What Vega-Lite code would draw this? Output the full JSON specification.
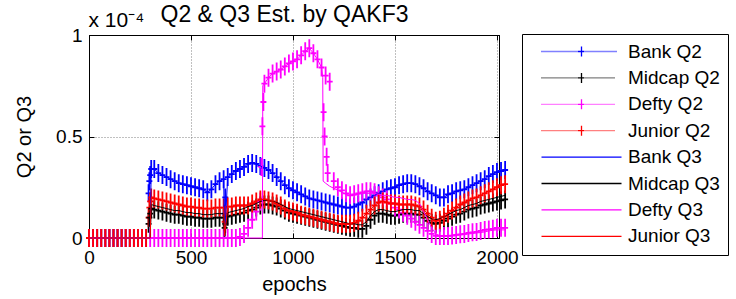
{
  "$schema": "https://vega.github.io/schema/vega-lite/v6.json",
  "width": 410,
  "height": 203,
  "autosize": {"type": "none"},
  "padding": {"left": 89, "top": 35, "right": 237, "bottom": 61},
  "background": "white",
  "config": {
    "font": "Liberation Sans",
    "view": {"stroke": "black", "strokeWidth": 1},
    "axis": {"labelColor": "black", "titleColor": "black", "tickColor": "black", "domainColor": "black", "titleFontWeight": "normal", "labelFlush": false, "labelOverlap": false, "gridColor": "#808080", "gridDash": [1, 2], "gridOpacity": 1, "gridWidth": 1}
  },
  "datasets": {
    "keys": [
      {"s": "Bank Q2"}, {"s": "Midcap Q2"}, {"s": "Defty Q2"}, {"s": "Junior Q2"},
      {"s": "Bank Q3"}, {"s": "Midcap Q3"}, {"s": "Defty Q3"}, {"s": "Junior Q3"}
    ]
  },
  "data": {"values": [
    {"e":0,"b2":0,"m2":0,"d2":0,"j2":0,"b3":0,"m3":0,"d3":0,"j3":0},
    {"e":20,"b2":0,"m2":0,"d2":0,"j2":0},
    {"e":40,"b2":0,"m2":0,"d2":0,"j2":0},
    {"e":60,"b2":0,"m2":0,"d2":0,"j2":0},
    {"e":80,"b2":0,"m2":0,"d2":0,"j2":0},
    {"e":100,"b2":0,"m2":0,"d2":0,"j2":0},
    {"e":120,"b2":0,"m2":0,"d2":0,"j2":0},
    {"e":140,"b2":0,"m2":0,"d2":0,"j2":0},
    {"e":160,"b2":0,"m2":0,"d2":0,"j2":0},
    {"e":180,"b2":0,"m2":0,"d2":0,"j2":0},
    {"e":200,"b2":0,"m2":0,"d2":0,"j2":0},
    {"e":220,"b2":0,"m2":0,"d2":0,"j2":0},
    {"e":240,"b2":0,"m2":0,"d2":0,"j2":0},
    {"e":260,"b2":0,"m2":0,"d2":0,"j2":0},
    {"e":280,"b2":0,"m2":0,"d2":0,"j2":0},
    {"e":292,"b2":0.22,"m2":0.07,"j2":0.1},
    {"e":296,"b2":0.28,"m2":0.1,"j2":0.15},
    {"e":300,"b2":0.31,"m2":0.12,"d2":0,"j2":0.18,"b3":0,"m3":0,"d3":0,"j3":0},
    {"e":305,"b2":0.34,"m2":0.145,"j2":0.2,"b3":0.34,"m3":0.165,"d3":0,"j3":0.2},
    {"e":320,"b2":0.34,"m2":0.14,"d2":0,"j2":0.195,"b3":0.34,"m3":0.16,"j3":0.195},
    {"e":340,"b2":0.32,"m2":0.135,"d2":0,"j2":0.19,"b3":0.32,"m3":0.155,"j3":0.19},
    {"e":360,"b2":0.31,"m2":0.13,"d2":0,"j2":0.185,"b3":0.31,"m3":0.15,"j3":0.185},
    {"e":380,"b2":0.30,"m2":0.125,"d2":0,"j2":0.18,"b3":0.30,"m3":0.145,"j3":0.18},
    {"e":400,"b2":0.29,"m2":0.12,"d2":0,"j2":0.175,"b3":0.29,"m3":0.14,"j3":0.175},
    {"e":420,"b2":0.28,"m2":0.115,"d2":0,"j2":0.17,"b3":0.28,"m3":0.135,"j3":0.17},
    {"e":440,"b2":0.27,"m2":0.115,"d2":0,"j2":0.165,"b3":0.27,"m3":0.135,"j3":0.165},
    {"e":460,"b2":0.265,"m2":0.11,"d2":0,"j2":0.16,"b3":0.265,"m3":0.13,"j3":0.16},
    {"e":480,"b2":0.26,"m2":0.105,"d2":0,"j2":0.155,"b3":0.26,"m3":0.125,"j3":0.155},
    {"e":500,"b2":0.255,"m2":0.105,"d2":0,"j2":0.155,"b3":0.255,"m3":0.125,"j3":0.155},
    {"e":520,"b2":0.25,"m2":0.10,"d2":0,"j2":0.15,"b3":0.25,"m3":0.12,"j3":0.15},
    {"e":540,"b2":0.245,"m2":0.10,"d2":0,"j2":0.15,"b3":0.245,"m3":0.12,"j3":0.15},
    {"e":560,"b2":0.24,"m2":0.095,"d2":0,"j2":0.145,"b3":0.24,"m3":0.115,"j3":0.145},
    {"e":580,"b2":0.225,"m2":0.095,"d2":0,"j2":0.145,"b3":0.225,"m3":0.115,"j3":0.145},
    {"e":600,"b2":0.24,"m2":0.095,"d2":0,"j2":0.145,"b3":0.24,"m3":0.115,"j3":0.145},
    {"e":620,"b2":0.265,"m2":0.10,"d2":0,"j2":0.15,"b3":0.265,"m3":0.12,"j3":0.15},
    {"e":640,"b2":0.28,"m2":0.10,"d2":0,"j2":0.15,"b3":0.28,"m3":0.12,"j3":0.15},
    {"e":660,"b2":0.29,"m2":0.10,"d2":0,"j2":0.15,"b3":0.29,"m3":0.12,"j3":0.15},
    {"e":665,"b2":0.12,"m2":0.05,"j2":0.08,"b3":0.01,"m3":0.01,"d3":0,"j3":0.01},
    {"e":668,"b2":0.2,"m2":0.07,"j2":0.11},
    {"e":680,"b2":0.30,"m2":0.105,"d2":0,"j2":0.155,"b3":0.30,"m3":0.125,"j3":0.155},
    {"e":700,"b2":0.315,"m2":0.11,"d2":0,"j2":0.155,"b3":0.315,"m3":0.13,"j3":0.155},
    {"e":720,"b2":0.33,"m2":0.115,"d2":0,"j2":0.16,"b3":0.33,"m3":0.135,"j3":0.16},
    {"e":740,"b2":0.34,"m2":0.12,"d2":0.005,"j2":0.16,"b3":0.34,"m3":0.14,"j3":0.16},
    {"e":760,"b2":0.35,"m2":0.125,"d2":0.02,"j2":0.16,"b3":0.35,"m3":0.145,"j3":0.16},
    {"e":780,"b2":0.365,"m2":0.135,"d2":0.05,"j2":0.16,"b3":0.365,"m3":0.155,"j3":0.16},
    {"e":800,"b2":0.37,"m2":0.14,"d2":0.09,"j2":0.17,"b3":0.37,"m3":0.16,"j3":0.17},
    {"e":820,"b2":0.365,"m2":0.15,"d2":0.13,"j2":0.18,"b3":0.365,"m3":0.17,"j3":0.18},
    {"e":840,"b2":0.355,"m2":0.16,"d2":0.18,"j2":0.19,"b3":0.355,"m3":0.18,"j3":0.19},
    {"e":845,"d2":0.35},
    {"e":850,"d2":0.55,"d3":0},
    {"e":852,"d3":0.75},
    {"e":855,"d2":0.67},
    {"e":860,"b2":0.345,"m2":0.165,"d2":0.76,"j2":0.19,"b3":0.345,"m3":0.185,"d3":0.76,"j3":0.19},
    {"e":880,"b2":0.335,"m2":0.165,"d2":0.79,"j2":0.185,"b3":0.335,"m3":0.185,"d3":0.79,"j3":0.185},
    {"e":900,"b2":0.32,"m2":0.16,"d2":0.81,"j2":0.18,"b3":0.32,"m3":0.18,"d3":0.81,"j3":0.18},
    {"e":920,"b2":0.30,"m2":0.155,"d2":0.82,"j2":0.17,"b3":0.30,"m3":0.175,"d3":0.82,"j3":0.17},
    {"e":940,"b2":0.28,"m2":0.145,"d2":0.83,"j2":0.16,"b3":0.28,"m3":0.165,"d3":0.83,"j3":0.16},
    {"e":960,"b2":0.26,"m2":0.135,"d2":0.845,"j2":0.145,"b3":0.26,"m3":0.155,"d3":0.845,"j3":0.145},
    {"e":980,"b2":0.245,"m2":0.125,"d2":0.86,"j2":0.135,"b3":0.245,"m3":0.145,"d3":0.86,"j3":0.135},
    {"e":1000,"b2":0.235,"m2":0.12,"d2":0.87,"j2":0.13,"b3":0.235,"m3":0.14,"d3":0.87,"j3":0.13},
    {"e":1020,"b2":0.225,"m2":0.115,"d2":0.88,"j2":0.125,"b3":0.225,"m3":0.135,"d3":0.88,"j3":0.125},
    {"e":1040,"b2":0.215,"m2":0.11,"d2":0.90,"j2":0.115,"b3":0.215,"m3":0.13,"d3":0.90,"j3":0.115},
    {"e":1060,"b2":0.205,"m2":0.105,"d2":0.92,"j2":0.11,"b3":0.205,"m3":0.125,"d3":0.92,"j3":0.11},
    {"e":1080,"b2":0.195,"m2":0.10,"d2":0.935,"j2":0.105,"b3":0.195,"m3":0.12,"d3":0.935,"j3":0.105},
    {"e":1100,"b2":0.19,"m2":0.095,"d2":0.91,"j2":0.10,"b3":0.19,"m3":0.115,"d3":0.91,"j3":0.10},
    {"e":1120,"b2":0.185,"m2":0.09,"d2":0.88,"j2":0.095,"b3":0.185,"m3":0.11,"d3":0.88,"j3":0.095},
    {"e":1140,"b2":0.18,"m2":0.085,"d2":0.84,"j2":0.09,"b3":0.18,"m3":0.105,"d3":0.84,"j3":0.09},
    {"e":1146,"d3":0.79},
    {"e":1148,"d3":0.28},
    {"e":1150,"d2":0.62},
    {"e":1155,"d2":0.5},
    {"e":1160,"b2":0.175,"m2":0.08,"d2":0.80,"j2":0.085,"b3":0.175,"m3":0.10,"d3":0.27,"j3":0.085},
    {"e":1165,"d2":0.4},
    {"e":1170,"d2":0.32},
    {"e":1180,"b2":0.17,"m2":0.075,"d2":0.77,"j2":0.08,"b3":0.17,"m3":0.095,"d3":0.255,"j3":0.08},
    {"e":1200,"b2":0.165,"m2":0.07,"d2":0.28,"j2":0.075,"b3":0.165,"m3":0.09,"d3":0.245,"j3":0.075},
    {"e":1220,"b2":0.16,"m2":0.065,"d2":0.25,"j2":0.07,"b3":0.16,"m3":0.085,"d3":0.235,"j3":0.07},
    {"e":1240,"b2":0.155,"m2":0.06,"d2":0.235,"j2":0.07,"b3":0.155,"m3":0.08,"d3":0.225,"j3":0.07},
    {"e":1260,"b2":0.15,"m2":0.055,"d2":0.22,"j2":0.07,"b3":0.15,"m3":0.075,"d3":0.215,"j3":0.07},
    {"e":1280,"b2":0.15,"m2":0.05,"d2":0.21,"j2":0.07,"b3":0.15,"m3":0.07,"d3":0.21,"j3":0.07},
    {"e":1300,"b2":0.155,"m2":0.05,"d2":0.215,"j2":0.075,"b3":0.155,"m3":0.07,"d3":0.21,"j3":0.075},
    {"e":1320,"b2":0.165,"m2":0.045,"d2":0.22,"j2":0.085,"b3":0.165,"m3":0.065,"d3":0.215,"j3":0.085},
    {"e":1340,"b2":0.175,"m2":0.045,"d2":0.225,"j2":0.10,"b3":0.175,"m3":0.065,"d3":0.22,"j3":0.10},
    {"e":1360,"b2":0.19,"m2":0.06,"d2":0.23,"j2":0.12,"b3":0.19,"m3":0.08,"d3":0.22,"j3":0.12},
    {"e":1380,"b2":0.20,"m2":0.09,"d2":0.23,"j2":0.14,"b3":0.20,"m3":0.11,"d3":0.22,"j3":0.14},
    {"e":1400,"b2":0.21,"m2":0.11,"d2":0.225,"j2":0.16,"b3":0.21,"m3":0.13,"d3":0.22,"j3":0.16},
    {"e":1420,"b2":0.22,"m2":0.12,"d2":0.21,"j2":0.175,"b3":0.22,"m3":0.14,"d3":0.215,"j3":0.175},
    {"e":1440,"b2":0.23,"m2":0.12,"d2":0.20,"j2":0.18,"b3":0.23,"m3":0.14,"d3":0.21,"j3":0.18},
    {"e":1460,"b2":0.24,"m2":0.115,"d2":0.19,"j2":0.175,"b3":0.24,"m3":0.135,"d3":0.21,"j3":0.175},
    {"e":1480,"b2":0.245,"m2":0.11,"d2":0.17,"j2":0.17,"b3":0.245,"m3":0.13,"d3":0.205,"j3":0.17},
    {"e":1500,"b2":0.25,"m2":0.11,"d2":0.15,"j2":0.17,"b3":0.25,"m3":0.13,"d3":0.20,"j3":0.17},
    {"e":1520,"b2":0.26,"m2":0.115,"d2":0.14,"j2":0.165,"b3":0.26,"m3":0.135,"d3":0.20,"j3":0.165},
    {"e":1540,"b2":0.265,"m2":0.12,"d2":0.125,"j2":0.165,"b3":0.265,"m3":0.14,"d3":0.195,"j3":0.165},
    {"e":1560,"b2":0.27,"m2":0.12,"d2":0.11,"j2":0.165,"b3":0.27,"m3":0.14,"d3":0.19,"j3":0.165},
    {"e":1580,"b2":0.27,"m2":0.12,"d2":0.095,"j2":0.165,"b3":0.27,"m3":0.14,"d3":0.19,"j3":0.165},
    {"e":1600,"b2":0.265,"m2":0.115,"d2":0.08,"j2":0.16,"b3":0.265,"m3":0.135,"d3":0.185,"j3":0.16},
    {"e":1620,"b2":0.255,"m2":0.115,"d2":0.065,"j2":0.155,"b3":0.255,"m3":0.135,"d3":0.17,"j3":0.155},
    {"e":1640,"b2":0.245,"m2":0.10,"d2":0.05,"j2":0.14,"b3":0.245,"m3":0.12,"d3":0.13,"j3":0.14},
    {"e":1660,"b2":0.23,"m2":0.085,"d2":0.035,"j2":0.12,"b3":0.23,"m3":0.105,"d3":0.09,"j3":0.12},
    {"e":1680,"b2":0.22,"m2":0.075,"d2":0.02,"j2":0.10,"b3":0.22,"m3":0.095,"d3":0.05,"j3":0.10},
    {"e":1700,"b2":0.21,"m2":0.07,"d2":0.01,"j2":0.085,"b3":0.21,"m3":0.09,"d3":0.02,"j3":0.085},
    {"e":1720,"b2":0.20,"m2":0.075,"d2":0.01,"j2":0.09,"b3":0.20,"m3":0.095,"d3":0.012,"j3":0.09},
    {"e":1740,"b2":0.20,"m2":0.085,"d2":0.01,"j2":0.105,"b3":0.20,"m3":0.105,"d3":0.01,"j3":0.105},
    {"e":1760,"b2":0.215,"m2":0.095,"d2":0.01,"j2":0.12,"b3":0.215,"m3":0.115,"d3":0.01,"j3":0.12},
    {"e":1780,"b2":0.22,"m2":0.105,"d2":0.012,"j2":0.135,"b3":0.22,"m3":0.125,"d3":0.012,"j3":0.135},
    {"e":1800,"b2":0.23,"m2":0.115,"d2":0.015,"j2":0.15,"b3":0.23,"m3":0.135,"d3":0.015,"j3":0.15},
    {"e":1820,"b2":0.235,"m2":0.12,"d2":0.018,"j2":0.165,"b3":0.235,"m3":0.14,"d3":0.015,"j3":0.165},
    {"e":1840,"b2":0.24,"m2":0.13,"d2":0.02,"j2":0.175,"b3":0.24,"m3":0.15,"d3":0.018,"j3":0.175},
    {"e":1860,"b2":0.25,"m2":0.14,"d2":0.025,"j2":0.185,"b3":0.25,"m3":0.16,"d3":0.02,"j3":0.185},
    {"e":1880,"b2":0.26,"m2":0.145,"d2":0.028,"j2":0.195,"b3":0.26,"m3":0.165,"d3":0.022,"j3":0.195},
    {"e":1900,"b2":0.27,"m2":0.15,"d2":0.03,"j2":0.20,"b3":0.27,"m3":0.17,"d3":0.025,"j3":0.20},
    {"e":1920,"b2":0.28,"m2":0.16,"d2":0.035,"j2":0.21,"b3":0.28,"m3":0.18,"d3":0.027,"j3":0.21},
    {"e":1940,"b2":0.29,"m2":0.165,"d2":0.04,"j2":0.22,"b3":0.29,"m3":0.185,"d3":0.03,"j3":0.22},
    {"e":1960,"b2":0.305,"m2":0.17,"d2":0.042,"j2":0.23,"b3":0.305,"m3":0.19,"d3":0.035,"j3":0.23},
    {"e":1980,"b2":0.315,"m2":0.175,"d2":0.045,"j2":0.24,"b3":0.315,"m3":0.195,"d3":0.038,"j3":0.24},
    {"e":2000,"b2":0.325,"m2":0.18,"d2":0.05,"j2":0.25,"b3":0.325,"m3":0.20,"d3":0.04,"j3":0.25},
    {"e":2020,"b2":0.33,"m2":0.185,"d2":0.05,"j2":0.26,"b3":0.33,"m3":0.205,"d3":0.04,"j3":0.26},
    {"e":2040,"b2":0.335,"m2":0.19,"d2":0.05,"j2":0.265,"b3":0.335,"m3":0.21,"d3":0.04,"j3":0.265}
  ]},
  "layer": [
    {
      "transform": [
        {"fold": ["b2", "m2", "d2", "j2"], "as": ["k", "v"]},
        {"filter": "isValid(datum.v)"}
      ],
      "mark": {"type": "point", "shape": "M0,-1V1M-0.33,0H0.33", "size": 324, "filled": false, "strokeWidth": 1.8, "opacity": 1, "clip": false},
      "encoding": {
        "x": {"field": "e", "type": "quantitative", "scale": {"domain": [0, 2010], "nice": false, "zero": false},
          "axis": {"orient": "bottom", "values": [0, 500, 1000, 1500, 2000], "labelExpr": "'' + datum.value", "labelFontSize": 19, "labelPadding": 15, "tickSize": -5, "grid": true, "title": "epochs", "titleFontSize": 20, "titleY": 52, "titleBaseline": "alphabetic"}},
        "y": {"field": "v", "type": "quantitative", "scale": {"domain": [0, 1], "nice": false, "zero": false},
          "axis": {"orient": "left", "values": [0, 0.5, 1], "labelExpr": "'' + datum.value", "labelFontSize": 19, "labelPadding": 12, "tickSize": -5, "grid": true, "title": "Q2 or Q3", "titleFontSize": 20, "titleX": -59, "titleY": 101.5, "titleAngle": -90, "titleAlign": "center", "titleBaseline": "alphabetic"}},
        "stroke": {"field": "k", "type": "nominal",
          "scale": {"domain": ["b2", "m2", "d2", "j2", "b3", "m3", "d3", "j3"], "range": ["#0000ff", "#000000", "#ff00ff", "#ff0000", "#0000ff", "#000000", "#ff00ff", "#ff0000"]},
          "legend": null}
      }
    },
    {
      "transform": [
        {"fold": ["b3", "m3", "d3", "j3"], "as": ["k", "v"]},
        {"filter": "isValid(datum.v)"}
      ],
      "mark": {"type": "line", "strokeWidth": 1, "clip": false},
      "encoding": {
        "x": {"field": "e", "type": "quantitative", "scale": {"domain": [0, 2010], "nice": false, "zero": false},
          "axis": {"orient": "top", "values": [0, 500, 1000, 1500, 2000], "labels": false, "tickSize": -5, "grid": false, "title": "x 10⁻⁴", "titleFontSize": 21, "titleX": -1, "titleY": -9, "titleAlign": "left", "titleBaseline": "alphabetic"}},
        "y": {"field": "v", "type": "quantitative", "scale": {"domain": [0, 1], "nice": false, "zero": false},
          "axis": {"orient": "right", "values": [0, 0.5, 1], "labels": false, "tickSize": -5, "grid": false, "title": "Q2 & Q3 Est. by QAKF3", "titleFontSize": 23, "titleAngle": 0, "titleX": -215, "titleY": -14, "titleAlign": "center", "titleBaseline": "alphabetic"}},
        "stroke": {"field": "k", "type": "nominal",
          "scale": {"domain": ["b2", "m2", "d2", "j2", "b3", "m3", "d3", "j3"], "range": ["#0000ff", "#000000", "#ff00ff", "#ff0000", "#0000ff", "#000000", "#ff00ff", "#ff0000"]},
          "legend": null},
        "order": {"field": "e", "type": "quantitative"}
      }
    },
    {
      "data": {"name": "keys"},
      "mark": {"type": "point", "filled": false, "opacity": 0, "strokeWidth": 1},
      "encoding": {
        "color": {"field": "s", "type": "nominal",
          "scale": {"domain": ["Bank Q2", "Midcap Q2", "Defty Q2", "Junior Q2", "Bank Q3", "Midcap Q3", "Defty Q3", "Junior Q3"], "range": ["#0000ff", "#000000", "#ff00ff", "#ff0000", "#0000ff", "#000000", "#ff00ff", "#ff0000"]},
          "legend": {"title": null, "orient": "none", "legendX": 433, "legendY": -1, "padding": 8, "strokeColor": "black", "fillColor": "white", "cornerRadius": 0, "labelFontSize": 19, "labelColor": "black", "labelOffset": 79, "rowPadding": 6.4, "symbolSize": 100, "symbolStrokeWidth": 1.3, "symbolOpacity": 1, "symbolFillColor": "transparent", "labelLimit": 0}},
        "shape": {"field": "s", "type": "nominal",
          "scale": {"domain": ["Bank Q2", "Midcap Q2", "Defty Q2", "Junior Q2", "Bank Q3", "Midcap Q3", "Defty Q3", "Junior Q3"],
            "range": [
              "M0.4,0h0.2m0.2,0h0.2m0.2,0h0.2m0.2,0h0.2m0.2,0h0.2m0.2,0h0.2m0.2,0h0.2m0.2,0h0.2m0.2,0h0.2m0.2,0h0.2m0.2,0h0.2m0.2,0h0.2m0.2,0h0.2m0.2,0h0.2m0.2,0h0.2m0.2,0h0.2m0.2,0h0.2m0.2,0h0.2m0.2,0h0.2m0.2,0h0.2m0.2,0h0.2m0.2,0h0.2m0.2,0h0.2m0.2,0h0.2m0.2,0h0.2m0.2,0h0.2m0.2,0h0.2m0.2,0h0.2m0.2,0h0.2m0.2,0h0.2m0.2,0h0.2m0.2,0h0.2m0.2,0h0.2m0.2,0h0.2m0.2,0h0.2m0.2,0h0.2m0.2,0h0.2m0.2,0h0.2m0.2,0M8.4,-1V1M7.8,0H9",
              "M0.4,0h0.2m0.2,0h0.2m0.2,0h0.2m0.2,0h0.2m0.2,0h0.2m0.2,0h0.2m0.2,0h0.2m0.2,0h0.2m0.2,0h0.2m0.2,0h0.2m0.2,0h0.2m0.2,0h0.2m0.2,0h0.2m0.2,0h0.2m0.2,0h0.2m0.2,0h0.2m0.2,0h0.2m0.2,0h0.2m0.2,0h0.2m0.2,0h0.2m0.2,0h0.2m0.2,0h0.2m0.2,0h0.2m0.2,0h0.2m0.2,0h0.2m0.2,0h0.2m0.2,0h0.2m0.2,0h0.2m0.2,0h0.2m0.2,0h0.2m0.2,0h0.2m0.2,0h0.2m0.2,0h0.2m0.2,0h0.2m0.2,0h0.2m0.2,0h0.2m0.2,0h0.2m0.2,0M8.4,-1V1M7.8,0H9",
              "M0.4,0h0.2m0.2,0h0.2m0.2,0h0.2m0.2,0h0.2m0.2,0h0.2m0.2,0h0.2m0.2,0h0.2m0.2,0h0.2m0.2,0h0.2m0.2,0h0.2m0.2,0h0.2m0.2,0h0.2m0.2,0h0.2m0.2,0h0.2m0.2,0h0.2m0.2,0h0.2m0.2,0h0.2m0.2,0h0.2m0.2,0h0.2m0.2,0h0.2m0.2,0h0.2m0.2,0h0.2m0.2,0h0.2m0.2,0h0.2m0.2,0h0.2m0.2,0h0.2m0.2,0h0.2m0.2,0h0.2m0.2,0h0.2m0.2,0h0.2m0.2,0h0.2m0.2,0h0.2m0.2,0h0.2m0.2,0h0.2m0.2,0h0.2m0.2,0h0.2m0.2,0h0.2m0.2,0M8.4,-1V1M7.8,0H9",
              "M0.4,0h0.2m0.2,0h0.2m0.2,0h0.2m0.2,0h0.2m0.2,0h0.2m0.2,0h0.2m0.2,0h0.2m0.2,0h0.2m0.2,0h0.2m0.2,0h0.2m0.2,0h0.2m0.2,0h0.2m0.2,0h0.2m0.2,0h0.2m0.2,0h0.2m0.2,0h0.2m0.2,0h0.2m0.2,0h0.2m0.2,0h0.2m0.2,0h0.2m0.2,0h0.2m0.2,0h0.2m0.2,0h0.2m0.2,0h0.2m0.2,0h0.2m0.2,0h0.2m0.2,0h0.2m0.2,0h0.2m0.2,0h0.2m0.2,0h0.2m0.2,0h0.2m0.2,0h0.2m0.2,0h0.2m0.2,0h0.2m0.2,0h0.2m0.2,0h0.2m0.2,0h0.2m0.2,0M8.4,-1V1M7.8,0H9",
              "M0.4,0H16.4",
              "M0.4,0H16.4",
              "M0.4,0H16.4",
              "M0.4,0H16.4"
            ]},
          "legend": {"title": null, "orient": "none", "legendX": 433, "legendY": -1, "padding": 8, "strokeColor": "black", "fillColor": "white", "cornerRadius": 0, "labelFontSize": 19, "labelColor": "black", "labelOffset": 79, "rowPadding": 6.4, "symbolSize": 100, "symbolStrokeWidth": 1.3, "symbolOpacity": 1, "symbolFillColor": "transparent", "labelLimit": 0}}
      }
    }
  ],
  "resolve": {"axis": {"x": "independent", "y": "independent"}}
}
